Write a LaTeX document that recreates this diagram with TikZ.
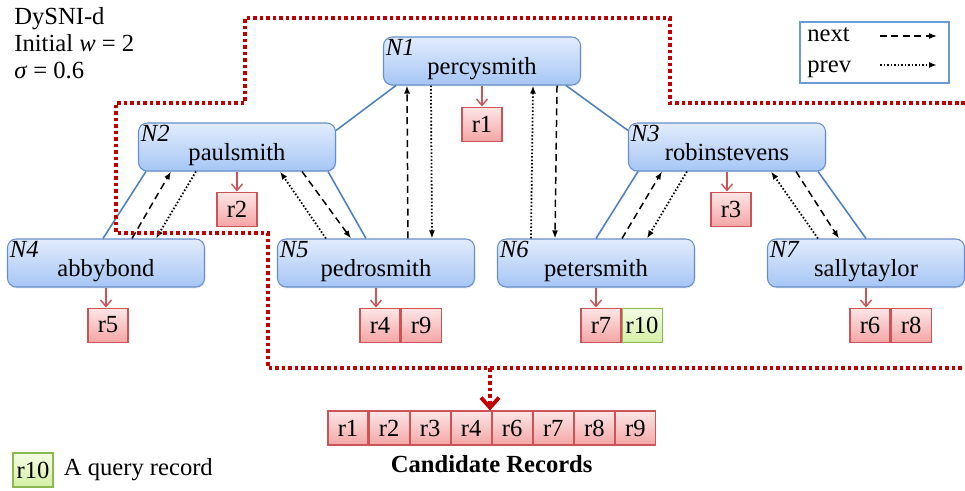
\documentclass[tikz,border=0pt]{standalone}
\usepackage{fontspec}
\setmainfont{Liberation Serif}
\usepackage{tikz}
\usetikzlibrary{arrows.meta,positioning,calc,shadows}
\definecolor{dsTreeTop}{RGB}{226,236,252}
\definecolor{dsTreeBot}{RGB}{166,198,245}
\definecolor{dsTreeLine}{RGB}{104,142,202}
\definecolor{dsEdge}{RGB}{79,129,189}
\definecolor{dsRecTop}{RGB}{253,230,230}
\definecolor{dsRecBot}{RGB}{244,166,166}
\definecolor{dsRecLine}{RGB}{204,84,88}
\definecolor{dsQryTop}{RGB}{244,252,228}
\definecolor{dsQryBot}{RGB}{212,240,166}
\definecolor{dsQryLine}{RGB}{140,184,80}
\definecolor{dsWindow}{RGB}{192,0,0}
\definecolor{dsLegend}{RGB}{106,155,216}
\newcommand{\dsSize}{\fontsize{14}{15.3}\selectfont}
\tikzset{
    dsShadow/.style={
        drop shadow={opacity=0.2, shadow xshift=0.5pt, shadow yshift=-0.8pt}
    },
    % Tree nodes
    nodeId/.style={anchor=north west, inner sep=1.5pt, font=\dsSize\itshape},
    treeNode/.style={
        rectangle,
        rounded corners=5pt,
        draw=dsTreeLine,
        line width=0.6pt,
        top color=dsTreeTop,
        bottom color=dsTreeBot,
        minimum width=3.94cm,
        minimum height=0.96cm,
        text height=0.62cm,
        text depth=0.06cm,
        inner sep=0pt,
        dsShadow,
        label={[nodeId]north west:#1}
    },
    % Records
    recBox/.style={
        rectangle,
        draw=dsRecLine,
        line width=0.6pt,
        top color=dsRecTop,
        bottom color=dsRecBot,
        minimum width=0.8cm,
        minimum height=0.68cm,
        inner sep=0pt,
        dsShadow
    },
    qryBox/.style={recBox, draw=dsQryLine, top color=dsQryTop, bottom color=dsQryBot},
    % Connectors
    treeEdge/.style={draw=dsEdge, line width=0.9pt},
    nextArrow/.style={-{Latex[length=1.6mm,width=1.2mm]}, line width=0.85pt, dash pattern=on 4pt off 2.5pt},
    prevArrow/.style={-{Latex[length=1.6mm,width=1.2mm]}, line width=1pt, dash pattern=on 0.9pt off 1.1pt},
    recArrow/.style={-{Straight Barb[length=1.3mm,width=2.2mm]}, draw=dsRecLine, line width=0.8pt},
    windowLine/.style={draw=dsWindow, line width=2.2pt, dash pattern=on 2pt off 1.7pt},
    windowArrow/.style={windowLine, -{Straight Barb[length=2mm,width=3.6mm]}}
}
\begin{document}
\begin{tikzpicture}[font=\dsSize]
\useasboundingbox (0,0) rectangle (19.3,-9.82);

% parameters and legend
\node[anchor=north west, align=left, inner sep=0pt] (params) at (0.28,-0.14) {DySNI-d\\Initial \textit{w} = 2\\\textit{σ} = 0.6};
\node[draw=dsLegend, line width=0.8pt, minimum width=2.98cm, minimum height=1.22cm] (legend) at (17.49,-1.05) {};
\node[anchor=base west, inner sep=0pt] (nextKey) at (16.14,-0.84) {next};
\node[anchor=base west, inner sep=0pt] (prevKey) at (16.14,-1.46) {prev};
\coordinate (nextFrom) at (17.6,-0.72);
\coordinate (nextTo) at (18.74,-0.72);
\coordinate (prevFrom) at (17.6,-1.3);
\coordinate (prevTo) at (18.74,-1.3);
\draw[nextArrow] (nextFrom) -- (nextTo);
\draw[prevArrow] (prevFrom) -- (prevTo);

% tree
\node[treeNode=N1] (n1) at (9.64,-1.22) {percysmith};
\node[treeNode=N2] (n2) at (4.74,-2.94) {paulsmith};
\node[treeNode=N3] (n3) at (14.54,-2.94) {robinstevens};
\node[treeNode=N4] (n4) at (2.12,-5.26) {abbybond};
\node[treeNode=N5] (n5) at (7.52,-5.26) {pedrosmith};
\node[treeNode=N6] (n6) at (11.92,-5.26) {petersmith};
\node[treeNode=N7] (n7) at (17.32,-5.26) {sallytaylor};

\draw[treeEdge] ([xshift=0.26cm]n1.south west) -- ([yshift=-0.16cm]n2.north east);
\draw[treeEdge] ([xshift=-0.3cm]n1.south east) -- ([yshift=-0.16cm]n3.north west);
\draw[treeEdge] ([xshift=0.16cm]n2.south west) -- ([xshift=-0.06cm]n4.north);
\draw[treeEdge] ([xshift=-0.16cm]n2.south east) -- ([xshift=-0.2cm]n5.north);
\draw[treeEdge] ([xshift=0.2cm]n3.south west) -- (n6.north);
\draw[treeEdge] ([xshift=-0.16cm]n3.south east) -- (n7.north);

% next / prev links
\draw[nextArrow] ([xshift=-1.46cm]n4.north east) -- ([xshift=0.66cm]n2.south west);
\draw[prevArrow] ([xshift=1.16cm]n2.south west) -- ([xshift=-0.98cm]n4.north east);
\draw[nextArrow] ([xshift=-0.68cm]n2.south east) -- ([xshift=1.48cm]n5.north west);
\draw[prevArrow] ([xshift=0.98cm]n5.north west) -- ([xshift=-1.12cm]n2.south east);
\draw[nextArrow] ([xshift=2.62cm]n5.north west) -- ([xshift=0.48cm]n1.south west);
\draw[prevArrow] ([xshift=0.96cm]n1.south west) -- ([xshift=3.1cm]n5.north west);
\draw[nextArrow] ([xshift=-0.48cm]n1.south east) -- ([xshift=1.16cm]n6.north west);
\draw[prevArrow] ([xshift=0.68cm]n6.north west) -- ([xshift=-0.96cm]n1.south east);
\draw[nextArrow] ([xshift=-1.46cm]n6.north east) -- ([xshift=0.68cm]n3.south west);
\draw[prevArrow] ([xshift=1.18cm]n3.south west) -- ([xshift=-0.96cm]n6.north east);
\draw[nextArrow] ([xshift=-0.6cm]n3.south east) -- ([xshift=1.44cm]n7.north west);
\draw[prevArrow] ([xshift=1.02cm]n7.north west) -- ([xshift=-1.1cm]n3.south east);

% records per node
\node[recBox, below=0.42cm of n1] (rec1) {r1};
\node[recBox, below=0.4cm of n2] (rec2) {r2};
\node[recBox, below=0.4cm of n3, xshift=0.08cm] (rec3) {r3};
\node[recBox, below=0.4cm of n4, xshift=0.04cm] (rec5) {r5};
\node[recBox, below=0.4cm of n5, xshift=0.08cm] (rec4) {r4};
\node[recBox, right=0pt of rec4] (rec9) {r9};
\node[recBox, below=0.4cm of n6, xshift=0.1cm] (rec7) {r7};
\node[qryBox, right=0pt of rec7] (rec10) {r10};
\node[recBox, below=0.4cm of n7, xshift=0.08cm] (rec6) {r6};
\node[recBox, right=0pt of rec6] (rec8) {r8};

\draw[recArrow] (n1.south) -- (n1.south |- rec1.north);
\draw[recArrow] (n2.south) -- (n2.south |- rec2.north);
\draw[recArrow] (n3.south) -- (n3.south |- rec3.north);
\draw[recArrow] (n4.south) -- (n4.south |- rec5.north);
\draw[recArrow] (n5.south) -- (n5.south |- rec4.north);
\draw[recArrow] (n6.south) -- (n6.south |- rec7.north);
\draw[recArrow] (n7.south) -- (n7.south |- rec6.north);

% window
\draw[windowLine] (19.3,-2.06) -| (13.4,-0.36) -| (4.9,-2.06) -| (2.32,-4.66) -| (5.36,-7.36) -- (19.3,-7.36);

% candidate records
\node[recBox] (cand1) at (6.96,-8.56) {r1};
\node[recBox, right=0pt of cand1] (cand2) {r2};
\node[recBox, right=0pt of cand2] (cand3) {r3};
\node[recBox, right=0pt of cand3] (cand4) {r4};
\node[recBox, right=0pt of cand4] (cand5) {r6};
\node[recBox, right=0pt of cand5] (cand6) {r7};
\node[recBox, right=0pt of cand6] (cand7) {r8};
\node[recBox, right=0pt of cand7] (cand8) {r9};
\node[below=0.08cm of cand4.south east, font=\dsSize\bfseries] (candLabel) {Candidate Records};
\coordinate (tap) at (9.8,-7.36);
\draw[windowArrow] (tap) -- (tap |- cand5.north);

% query record key
\node[qryBox] (qry) at (0.66,-9.4) {r10};
\node[right=0.2cm of qry, inner sep=0pt] (qryText) {A query record};
\end{tikzpicture}
\end{document}
